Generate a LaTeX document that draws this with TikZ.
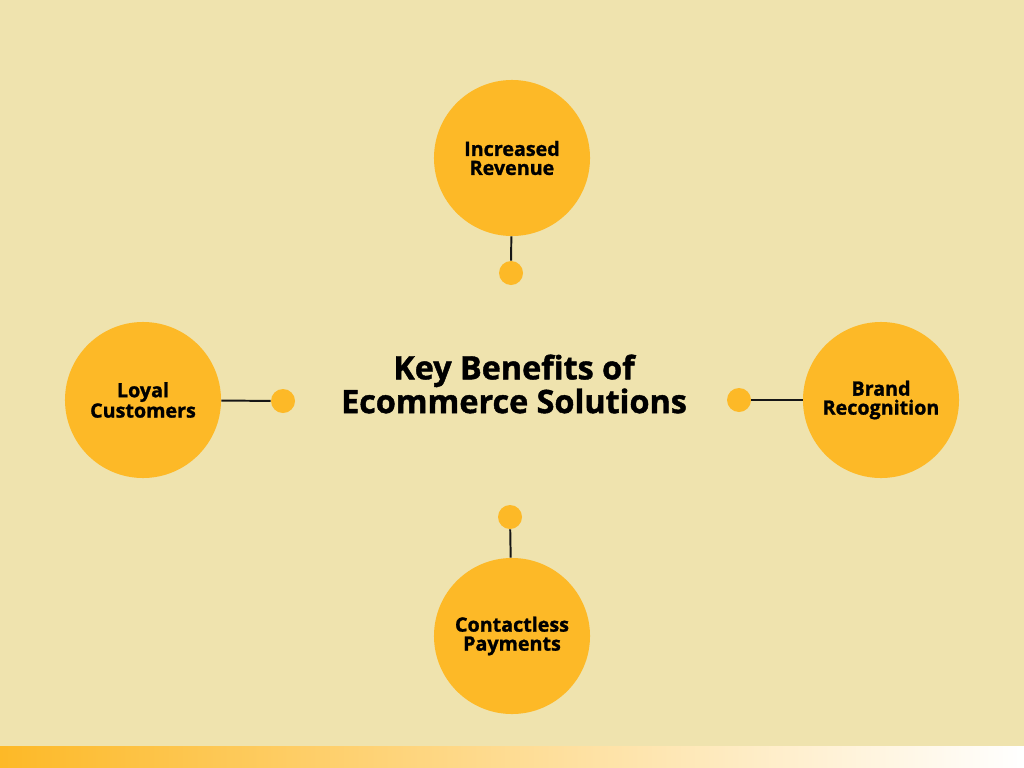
\documentclass[tikz,border=0pt]{standalone}
\usepackage{fontspec}
\setmainfont{Open Sans}[BoldFeatures={FakeBold=1.3}]
\usetikzlibrary{positioning,calc}
\definecolor{kbfond}{HTML}{EFE3AE}
\definecolor{kbjaune}{HTML}{FDB927}
\definecolor{kbdark}{HTML}{161616}

\begin{document}
\begin{tikzpicture}[x=0.025cm, y=-0.025cm, every node/.style={font=\bfseries\fontsize{14}{13.5}\selectfont, text=black},
  bulle/.style={circle, fill=kbjaune, minimum size=3.9cm, inner sep=0pt, align=center},
  point/.style={circle, fill=kbjaune, minimum size=0.6cm, inner sep=0pt},
  lien/.style={kbdark, line width=1.4pt}]
  \fill[kbfond] (0,0) rectangle (1024,768);
  \useasboundingbox (0,0) rectangle (1024,768);
  % bande du bas
  \shade[left color=kbjaune, right color=white] (0,746) rectangle (1024,768);
  % titre
  \node[align=center, font=\bfseries\fontsize{23}{21}\selectfont] (titre) at (514,384) {Key Benefits of\\Ecommerce Solutions};
  % haut
  \node[bulle] (rev) at (512,158) {Increased\\Revenue};
  \node[point] (pRev) at (511,273) {};
  \draw[lien] (rev) -- (pRev);
  % gauche
  \node[bulle] (loyal) at (143,400) {Loyal\\Customers};
  \node[point] (pLoyal) at (283,401) {};
  \draw[lien] (loyal) -- (pLoyal);
  % droite
  \node[bulle] (brand) at (881,400) {Brand\\Recognition};
  \node[point] (pBrand) at (739,400) {};
  \draw[lien] (pBrand) -- (brand);
  % bas
  \node[bulle] (pay) at (512,636) {Contactless\\Payments};
  \node[point] (pPay) at (510,517) {};
  \draw[lien] (pPay) -- (pay);
\end{tikzpicture}
\end{document}
